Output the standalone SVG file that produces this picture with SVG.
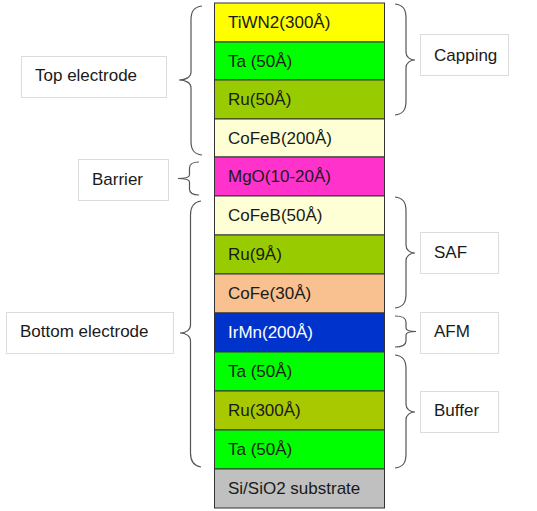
<svg xmlns="http://www.w3.org/2000/svg" width="537" height="511" viewBox="0 0 537 511">
<style>
.layer{stroke:#333;stroke-width:1}
.t{font-family:"Liberation Sans",Arial,sans-serif;font-size:17px;fill:#1a1a1a}
.w{fill:#ffffff}
.box{fill:#ffffff;stroke:#dcdcdc;stroke-width:1}
.brace{fill:none;stroke:#555;stroke-width:1.2}
</style>
<rect width="537" height="511" fill="#ffffff"/>
<g id="stack">
<g id="TiWN2"><rect class="layer" x="214.5" y="3" width="170" height="39" fill="#FFFF00"/><text class="t" x="228" y="28">TiWN2(300Å)</text></g>
<g id="Ta_top"><rect class="layer" x="214.5" y="42" width="170" height="38" fill="#00FF00"/><text class="t" x="228" y="67">Ta (50Å)</text></g>
<g id="Ru_top"><rect class="layer" x="214.5" y="80" width="170" height="39" fill="#99CC00"/><text class="t" x="228" y="105">Ru(50Å)</text></g>
<g id="CoFeB_top"><rect class="layer" x="214.5" y="119" width="170" height="38" fill="#FFFFD5"/><text class="t" x="228" y="144">CoFeB(200Å)</text></g>
<g id="MgO"><rect class="layer" x="214.5" y="157" width="170" height="39" fill="#FF33CC"/><text class="t" x="228" y="182">MgO(10-20Å)</text></g>
<g id="CoFeB_bot"><rect class="layer" x="214.5" y="196" width="170" height="39" fill="#FFFFD5"/><text class="t" x="228" y="221">CoFeB(50Å)</text></g>
<g id="Ru_9"><rect class="layer" x="214.5" y="235" width="170" height="39" fill="#99CC00"/><text class="t" x="228" y="260">Ru(9Å)</text></g>
<g id="CoFe"><rect class="layer" x="214.5" y="274" width="170" height="39" fill="#F9C090"/><text class="t" x="228" y="299">CoFe(30Å)</text></g>
<g id="IrMn"><rect class="layer" x="214.5" y="313" width="170" height="39" fill="#0033CC"/><text class="t w" x="228" y="338">IrMn(200Å)</text></g>
<g id="Ta_b1"><rect class="layer" x="214.5" y="352" width="170" height="39" fill="#00FF00"/><text class="t" x="228" y="377">Ta (50Å)</text></g>
<g id="Ru_300"><rect class="layer" x="214.5" y="391" width="170" height="39" fill="#A8C800"/><text class="t" x="228" y="416">Ru(300Å)</text></g>
<g id="Ta_b2"><rect class="layer" x="214.5" y="430" width="170" height="39" fill="#00FF00"/><text class="t" x="228" y="455">Ta (50Å)</text></g>
<g id="substrate"><rect class="layer" x="214.5" y="469" width="170" height="39" fill="#C0C0C0"/><text class="t" x="228" y="494">Si/SiO2 substrate</text></g>
</g>
<g id="connectors">
<path class="brace" d="M202,6 C194,7 191,11 191,20 L191,72 C191,77 186,80 179,80 C186,80 191,83 191,88 L191,141 C191,150 194,154 202,155"/>
<path class="brace" d="M199,162 C192,162 189.5,164 189.5,168 L189.5,175 C189.5,177 186,178.5 178,178.5 C186,178.5 189.5,180 189.5,182 L189.5,189 C189.5,193 192,195 199,195"/>
<path class="brace" d="M201,201 C194,202 190.5,206 190.5,215 L190.5,325 C190.5,330 186,333 180,333 C186,333 190.5,336 190.5,341 L190.5,453 C190.5,462 194,466 201,467"/>
<path class="brace" d="M395,4 C403,5 406,9 406,18 L406,52 C406,57 410,60 415,60 C410,60 406,63 406,68 L406,101 C406,110 403,114 395,115"/>
<path class="brace" d="M395,197 C403,198 406,202 406,211 L406,245 C406,250 410,253 415,253 C410,253 406,256 406,261 L406,294 C406,303 403,307 395,308"/>
<path class="brace" d="M395,316 C402,316 406,318 406,322 L406,328 C406,330 410,331.5 416,331.5 C410,331.5 406,333 406,335 L406,341 C406,345 402,347 395,347"/>
<path class="brace" d="M395,355 C403,356 406,360 406,369 L406,404 C406,409 410,412 415,412 C410,412 406,415 406,420 L406,454 C406,463 403,467 395,468"/>
</g>
<g id="label_top_electrode"><rect class="box" x="21.5" y="56.5" width="145" height="41"/><text class="t" x="35" y="81">Top electrode</text></g>
<g id="label_barrier"><rect class="box" x="78.5" y="159.5" width="90" height="41"/><text class="t" x="92" y="185">Barrier</text></g>
<g id="label_bottom_electrode"><rect class="box" x="6.5" y="312.5" width="167" height="41"/><text class="t" x="20" y="337">Bottom electrode</text></g>
<g id="label_capping"><rect class="box" x="420.5" y="34.5" width="88" height="41"/><text class="t" x="434" y="61">Capping</text></g>
<g id="label_saf"><rect class="box" x="420.5" y="232.5" width="78" height="41"/><text class="t" x="434" y="258">SAF</text></g>
<g id="label_afm"><rect class="box" x="420.5" y="312.5" width="78" height="41"/><text class="t" x="434" y="337">AFM</text></g>
<g id="label_buffer"><rect class="box" x="420.5" y="391.5" width="78" height="41"/><text class="t" x="434" y="416">Buffer</text></g>
</svg>
